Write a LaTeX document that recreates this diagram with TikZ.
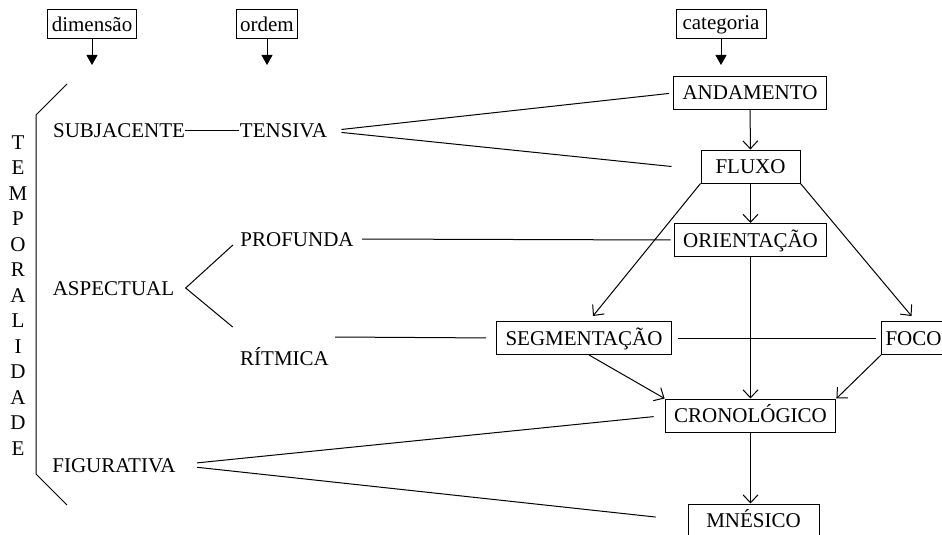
\documentclass[tikz,border=0pt]{standalone}
\usepackage{fontspec}
\setmainfont{Liberation Serif}
\usetikzlibrary{arrows.meta}

\begin{document}
\begin{tikzpicture}[x=0.5pt, y=-0.5pt, line width=0.5pt,
	font=\fontsize{10.5pt}{12pt}\selectfont,
	lbl/.style={inner sep=0pt, text height=7pt, text depth=0pt},
	box/.style={draw, inner xsep=4.5pt, inner ysep=0pt, minimum height=16.5pt, text height=7pt, text depth=0pt},
	hdr/.style={draw, inner xsep=2pt, inner ysep=0pt, minimum height=14.5pt},
	seta/.style={-{Straight Barb[length=4pt,width=7.5pt]}},
	cab/.style={-{Triangle[width=5.5pt,length=5pt]}}]
			\useasboundingbox (0,0) rectangle (942,535);
			% cabecalhos
			\node[hdr] (dim) at (92,24.5) {dimensão};
			\node[hdr] (ord) at (267,24.5) {ordem};
			\node[hdr, minimum width=45pt] (cat) at (721,24.5) {categoria};
			\coordinate (dimP) at (92,65);
			\coordinate (ordP) at (267,65);
			\coordinate (catP) at (721,65);
			\draw[cab] (dim) -- (dimP);
			\draw[cab] (ord) -- (ordP);
			\draw[cab] (cat) -- (catP);
			% chave e temporalidade
			\draw (67,84) -- (36,115) -- (36,474) -- (67,505);
			\foreach \l [count=\i from 0] in {T,E,M,P,O,R,A,L,I,D,A,D,E}
				\node[lbl] (tp\i) at (18,{142+25.5*\i}) {\l};
			% dimensoes e ordens
			\node[lbl] (subj) at (119,131) {SUBJACENTE};
			\node[lbl] (tens) at (283.5,131) {TENSIVA};
			\node[lbl] (asp) at (113.5,288) {ASPECTUAL};
			\node[lbl] (prof) at (297,239) {PROFUNDA};
			\node[lbl] (ritm) at (284.5,358) {RÍTMICA};
			\node[lbl] (fig) at (114,465) {FIGURATIVA};
			\coordinate (ritmL) at (335,337);
			% categorias
			\node[box] (anda) at (750,93) {ANDAMENTO};
			\node[box, minimum width=49.5pt] (flux) at (750.5,166.5) {FLUXO};
			\node[box] (orie) at (750.5,240) {ORIENTAÇÃO};
			\node[box] (segm) at (584,338) {SEGMENTAÇÃO};
			\node[box, inner xsep=2pt, anchor=west] (foco) at (881,338) {FOCO};
			\node[box] (cron) at (750.5,415.5) {CRONOLÓGICO};
			\node[box, minimum width=65.5pt] (mnes) at (753.5,520.5) {MNÉSICO};
			% ligacoes
			\draw (subj) -- (tens);
			\draw[shorten <=7pt, shorten >=2pt] (tens.east) -- (anda.west);
			\draw[shorten <=7pt] (tens.east) -- ([xshift=-14.5pt]flux.west);
			\draw ([xshift=-3.5pt,yshift=-3pt]prof.west) -- ([xshift=5.5pt]asp.east) -- ([xshift=-3.5pt,yshift=15.5pt]ritm.west);
			\draw[shorten <=4pt, shorten >=1.5pt] (prof.east) -- (orie.west);
			\draw[shorten >=5pt] (ritmL) -- (segm.west);
			\draw[shorten <=3pt, shorten >=2.5pt] (segm.east) -- (foco.west);
			\draw[shorten <=10.5pt, shorten >=5.5pt] (fig.east) -- (cron.west);
			\draw[shorten <=10.5pt, shorten >=16pt] (fig.east) -- (mnes.west);
			\draw[seta] (anda) -- (flux);
			\draw[seta] (flux) -- (orie);
			\draw[seta] (flux.south west) -- ([xshift=4.5pt,yshift=2.5pt]segm.north);
			\draw[seta] (flux.south east) -- ([xshift=-1pt,yshift=2.5pt]foco.north);
			\draw[seta] (orie) -- (cron);
			\draw[seta] ([xshift=2.5pt]segm.south) -- (cron.north west);
			\draw[seta] (foco.south west) -- (cron.north east);
			\draw[seta] (cron) -- (cron |- mnes.north);
		\end{tikzpicture}
\end{document}
